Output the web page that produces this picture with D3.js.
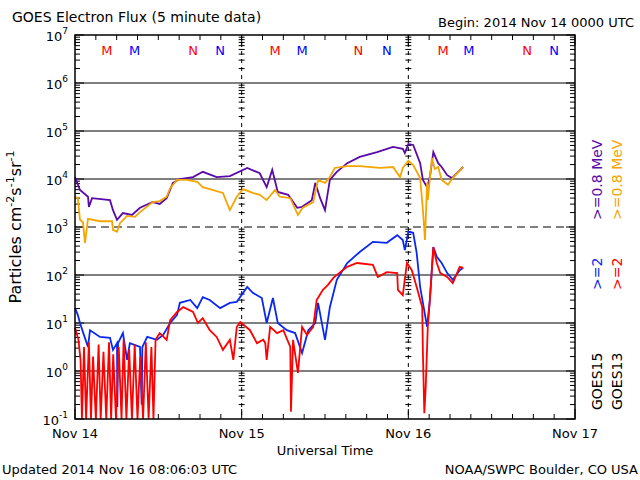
<!DOCTYPE html>
<html><head><meta charset="utf-8">
<script src="https://cdn.jsdelivr.net/npm/d3@7"></script>
<style>body{margin:0;background:#fff}text{font-family:"DejaVu Sans",sans-serif}</style>
</head><body>
<script>
// times in hours since 2014 Nov 14 00:00 UTC, values as log10(flux)
const purpleT = [0,0.72,1.87,2.0,2.45,5.04,5.47,6.05,6.9,8.2,9.36,11.2,12.2,13.2,14.1,15.1,17,18.4,20.4,22.3,24.8,26.6,27.6,28.4,29.2,30.7,32,32.7,34.1,34.6,35.3,36,36.7,37.7,39.2,41,43.5,45.8,47.2,47.5,48,48.7,49.7,50.1,50.7,51.1,51.6,52.3,52.8,53.6,54.3,55.2,55.9];
const purpleV = [4.04,3.77,3.63,3.42,3.6,3.56,3.35,3.15,3.29,3.25,3.4,3.52,3.48,3.6,3.92,4.0,4.04,4.15,4.04,4.06,4.23,4.12,3.83,4.19,3.73,3.67,3.4,3.42,3.56,3.92,3.6,3.35,3.98,4.15,4.33,4.46,4.56,4.67,4.63,4.54,4.73,4.71,4.33,3.98,3.83,4.04,4.56,4.33,4.25,4.08,4.02,4.15,4.25];
const orangeT = [0,0.4,0.72,1.15,1.44,1.87,3.6,5.33,5.47,6.05,6.48,7.5,8.64,9.36,11.2,12.2,13.2,13.7,14.7,16.1,17.6,18.4,19.9,21.3,22.3,23.3,24.2,25.6,26.6,27.6,28.8,29.5,31,32.1,32.8,34.3,35,36,36.7,37.4,39.2,41,43.9,45.8,46.8,47.2,48,48.7,49.7,50.1,50.4,50.7,50.8,51.4,51.8,52.3,52.8,53.7,54.4,55.9];
const orangeV = [3.63,3.6,3.15,3.1,2.67,3.17,3.12,3.12,2.94,2.9,3.08,3.23,3.21,3.31,3.52,3.54,3.63,3.81,3.98,3.98,3.94,3.83,3.77,3.71,3.35,3.63,3.79,3.71,3.67,3.56,3.77,3.63,3.6,3.25,3.4,3.52,3.98,3.92,4.04,4.23,4.27,4.27,4.23,4.25,4.04,4.23,4.38,4.29,4.02,3.35,2.73,3.92,3.56,4.44,4.21,4.25,3.98,3.88,4.02,4.25];
const blueT = [0,0.4,0.72,1.15,1.87,2.16,3.6,5.04,5.47,6.05,6.1,6.2,6.9,7.5,7.9,9.36,9.6,9.7,10.4,11.8,12.7,13.7,14.7,15.1,16.6,17.6,18.4,19.4,20.9,22.3,23.3,24.8,25.6,26.9,27.6,28.5,29.2,30.5,31.7,32.7,33.6,34.6,35,36,36.7,37.7,39.2,41,42.9,44.9,46.4,47.2,47.5,48,48.7,49.2,49.7,50.1,50.7,51.1,51.6,52.1,52.8,53.6,54.4,55.4,55.9];
const blueV = [1.31,1.17,1.0,0.81,0.5,0.85,0.71,0.69,0.44,0.58,-0.75,0.58,0.79,0.23,0.58,0.5,-0.7,0.5,0.71,0.65,0.75,1.0,1.17,1.42,1.48,1.31,1.54,1.48,1.31,1.42,1.44,1.75,1.63,1.52,1.0,1.52,1.0,0.85,0.79,0.375,0.85,1.0,1.42,0.65,1.33,1.9,2.25,2.48,2.69,2.67,2.83,2.73,2.52,2.9,2.88,2.46,1.75,1.42,0.92,1.48,2.58,2.38,2.25,2.04,1.9,2.1,2.15];
const redT = [0,0.5,0.8,1.0,1.3,1.6,2.0,2.3,2.6,3.0,3.4,3.7,4.1,4.5,4.9,5.2,5.5,5.9,6.3,6.7,7.0,7.4,7.8,8.2,8.6,9.0,9.4,9.8,10.2,10.6,11.0,11.3,11.6,12.2,13.2,13.7,14.7,15.6,17,17.7,18.4,19.4,20.4,21.3,22.3,22.8,23.3,23.8,25.2,26.2,27.1,27.4,27.6,28.1,29.1,30,31,31.1,31.4,32.1,32.7,33.4,34.3,34.8,35.7,36.4,37.2,38.2,39.2,40.6,42.9,43.6,44.9,46.4,46.5,47.2,47.8,48.5,49.2,50,50.1,50.3,50.5,50.8,51.1,51.6,52.1,52.6,53.6,54.4,55.4,55.9];
const redV = [0.9,0.65,0.23,-1,0.5,-1,0.6,-1,0.3,-1,0.55,-1,0.4,-1,0.6,-1,0.35,-1,0.5,-1,0.65,-1,0.45,-1,0.55,-1,0.3,-1,0.6,-1,0.5,-1,0.65,0.79,0.65,1.06,1.23,1.33,1.23,1.0,1.1,0.85,0.71,0.44,0.65,0.23,0.92,1.02,0.85,0.58,0.65,0.58,0.23,0.92,0.79,0.85,0.5,-0.85,0.65,-0.04,0.92,0.75,0.92,1.48,1.69,1.79,1.94,2.06,2.17,2.25,2.21,1.96,2.06,2.04,1.69,1.58,2.25,2.1,1.75,1.33,0.375,-0.88,-0.35,0.92,1.48,2.58,2.25,2.04,1.96,1.83,2.17,2.15];
const markT = [4.6,8.6,17,20.9,28.8,32.7,40.8,44.9,53,56.7,65.1,69];
const markL = ["M","M","N","N","M","M","N","N","M","M","N","N"];
const markC = ["#f00","#00f","#f00","#00f","#f00","#00f","#f00","#00f","#f00","#00f","#f00","#00f"];
const dayLabels = ["Nov 14","Nov 15","Nov 16","Nov 17"];
const decades = [-1,0,1,2,3,4,5,6,7];

const svg = d3.select("body").append("svg").attr("width",640).attr("height",480);
const x = d3.scaleLinear().domain([0,72]).range([75,575]);
const y = d3.scaleLog().domain([0.1,1e7]).range([419,35]);

// grid lines
decades.slice(1,-1).forEach(e => {
  svg.append("line").attr("x1",75).attr("x2",575).attr("y1",y(10**e)).attr("y2",y(10**e))
    .attr("stroke","#000").attr("stroke-dasharray", e===3 ? "8,5" : null);
});
[24,48].forEach(h => {
  svg.append("line").attr("x1",x(h)).attr("x2",x(h)).attr("y1",35).attr("y2",419)
    .attr("stroke","#000").attr("stroke-dasharray","4,4");
});
// minor log ticks on left, right and day lines
const minors = [];
decades.slice(0,-1).forEach(e => { for (let m=2;m<10;m++) minors.push(m*10**e); });
minors.forEach(v => {
  const yy = y(v);
  svg.append("line").attr("x1",75).attr("x2",80).attr("y1",yy).attr("y2",yy).attr("stroke","#000");
  svg.append("line").attr("x1",570).attr("x2",575).attr("y1",yy).attr("y2",yy).attr("stroke","#000");
  [24,48].forEach(h => svg.append("line").attr("x1",x(h)-3).attr("x2",x(h)+3).attr("y1",yy).attr("y2",yy).attr("stroke","#000"));
});
decades.forEach(e => {
  [[75,84],[566,575]].forEach(p => svg.append("line").attr("x1",p[0]).attr("x2",p[1]).attr("y1",y(10**e)).attr("y2",y(10**e)).attr("stroke","#000"));
  const t = svg.append("text").attr("x",68).attr("y",y(10**e)+6).attr("text-anchor","end").attr("font-size",13);
  t.append("tspan").text("10");
  t.append("tspan").attr("dy",-7).attr("font-size",9).text(e);
});
// x ticks every 3 hours
d3.range(0,73,3).forEach(h => {
  const len = h%24===0 ? 10 : 5;
  svg.append("line").attr("x1",x(h)).attr("x2",x(h)).attr("y1",419).attr("y2",419-len).attr("stroke","#000");
  svg.append("line").attr("x1",x(h)).attr("x2",x(h)).attr("y1",35).attr("y2",35+len).attr("stroke","#000");
});
dayLabels.forEach((d,i) => svg.append("text").attr("x",x(i*24)).attr("y",438).attr("text-anchor","middle").attr("font-size",13).text(d));

// series
const line = d3.line().x(d => x(d[0])).y(d => y(Math.max(0.1,10**d[1])));
const series = [[purpleT,purpleV,"#5a0aa8"],[orangeT,orangeV,"#f5a500"],[blueT,blueV,"#0a28f0"],[redT,redV,"#f00"]];
series.forEach(s => {
  svg.append("path").datum(d3.zip(s[0],s[1])).attr("d",line)
    .attr("fill","none").attr("stroke",s[2]).attr("stroke-width",1.8);
});

// M/N markers
markT.forEach((h,i) => svg.append("text").attr("x",x(h)).attr("y",55).attr("text-anchor","middle")
  .attr("font-size",13).attr("fill",markC[i]).text(markL[i]));

svg.append("rect").attr("x",75).attr("y",35).attr("width",500).attr("height",384)
  .attr("fill","none").attr("stroke","#000").attr("stroke-width",1.5);

// texts
svg.append("text").attr("x",12).attr("y",22).attr("font-size",14).text("GOES Electron Flux (5 minute data)");
svg.append("text").attr("x",634).attr("y",27).attr("text-anchor","end").attr("font-size",13).text("Begin: 2014 Nov 14 0000 UTC");
svg.append("text").attr("x",325).attr("y",455).attr("text-anchor","middle").attr("font-size",13).text("Universal Time");
svg.append("text").attr("x",2).attr("y",474).attr("font-size",13).text("Updated 2014 Nov 16 08:06:03 UTC");
svg.append("text").attr("x",638).attr("y",474).attr("text-anchor","end").attr("font-size",13).text("NOAA/SWPC Boulder, CO USA");
const yl = svg.append("text").attr("transform","translate(21,227) rotate(-90)").attr("text-anchor","middle").attr("font-size",16);
yl.append("tspan").text("Particles cm");
yl.append("tspan").attr("dy",-7).attr("font-size",11).text("-2");
yl.append("tspan").attr("dy",7).text("s");
yl.append("tspan").attr("dy",-7).attr("font-size",11).text("-1");
yl.append("tspan").attr("dy",7).text("sr");
yl.append("tspan").attr("dy",-7).attr("font-size",11).text("-1");
const legend = [[602,220,">=0.8  MeV","#5a0aa8"],[622,220,">=0.8  MeV","#f5a500"],[602,290,">=2","#0a28f0"],[622,290,">=2","#f00"],[602,410,"GOES15","#000"],[622,410,"GOES13","#000"]];
legend.forEach(l => svg.append("text").attr("transform",`translate(${l[0]},${l[1]}) rotate(-90)`)
  .attr("font-size",14).attr("fill",l[3]).text(l[2]));
</script>
</body></html>
